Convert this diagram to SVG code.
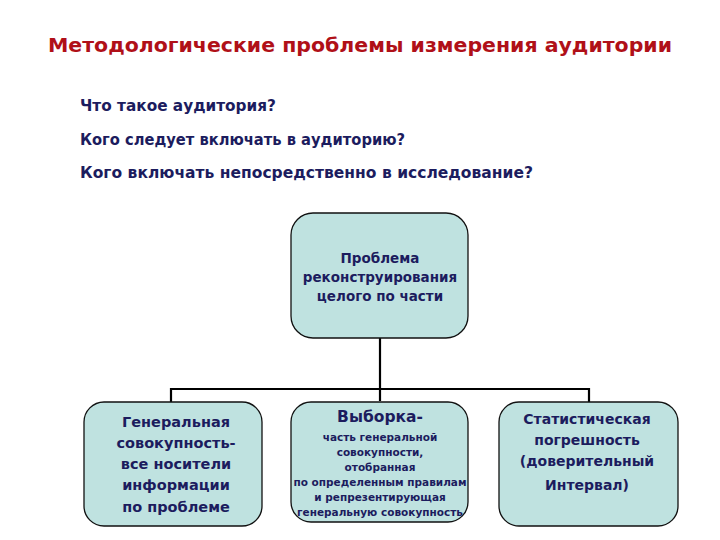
<svg xmlns="http://www.w3.org/2000/svg" width="720" height="540" viewBox="0 0 720 540">
<style>
.box{fill:#bfe2e0;stroke:#111;stroke-width:1.3}
.t{font-family:"DejaVu Sans",Verdana,sans-serif;font-weight:bold;fill:#1c1c5e;text-anchor:middle}
.q{font-family:"DejaVu Sans",Verdana,sans-serif;font-weight:bold;fill:#1c1c5e;font-size:15px}
.c{stroke:#000;stroke-width:2.2;fill:none}
</style>
<rect width="720" height="540" fill="#fff"/>
<text x="360" y="52" font-family="'DejaVu Sans',Verdana,sans-serif" font-weight="bold" font-size="20" fill="#b01018" text-anchor="middle" textLength="624" lengthAdjust="spacingAndGlyphs">Методологические проблемы измерения аудитории</text>
<g id="questions">
<text class="q" x="80" y="111" textLength="196" lengthAdjust="spacingAndGlyphs">Что такое аудитория?</text>
<text class="q" x="80" y="145" textLength="325" lengthAdjust="spacingAndGlyphs">Кого следует включать в аудиторию?</text>
<text class="q" x="80" y="178" textLength="453" lengthAdjust="spacingAndGlyphs">Кого включать непосредственно в исследование?</text>
</g>
<g id="connectors">
<path class="c" d="M380 338 V401"/>
<path class="c" d="M171 402 V389 H589 V402"/>
</g>
<g id="top">
<rect class="box" x="291" y="213" width="177" height="125" rx="22"/>
<text class="t" font-size="13.5"><tspan x="380" y="263">Проблема</tspan><tspan x="380" y="282">реконструирования</tspan><tspan x="380" y="301">целого по части</tspan></text>
</g>
<g id="general">
<rect class="box" x="84" y="402" width="178" height="124" rx="20"/>
<text class="t" font-size="14.5"><tspan x="176" y="427">Генеральная</tspan><tspan x="176" y="448">совокупность-</tspan><tspan x="176" y="469">все носители</tspan><tspan x="176" y="490">информации</tspan><tspan x="176" y="512">по проблеме</tspan></text>
</g>
<g id="sample">
<rect class="box" x="291" y="402" width="177" height="120" rx="20"/>
<text class="t" font-size="15.5"><tspan x="380" y="422">Выборка-</tspan></text>
<text class="t" font-size="10.5"><tspan x="380" y="441">часть генеральной</tspan><tspan x="380" y="456">совокупности,</tspan><tspan x="380" y="471">отобранная</tspan><tspan x="380" y="486">по определенным правилам</tspan><tspan x="380" y="501">и репрезентирующая</tspan><tspan x="380" y="516">генеральную совокупность</tspan></text>
</g>
<g id="stat">
<rect class="box" x="499" y="402" width="179" height="124" rx="20"/>
<text class="t" font-size="14"><tspan x="587" y="424">Статистическая</tspan><tspan x="587" y="445">погрешность</tspan><tspan x="587" y="466">(доверительный</tspan><tspan x="587" y="490">Интервал)</tspan></text>
</g>
</svg>
